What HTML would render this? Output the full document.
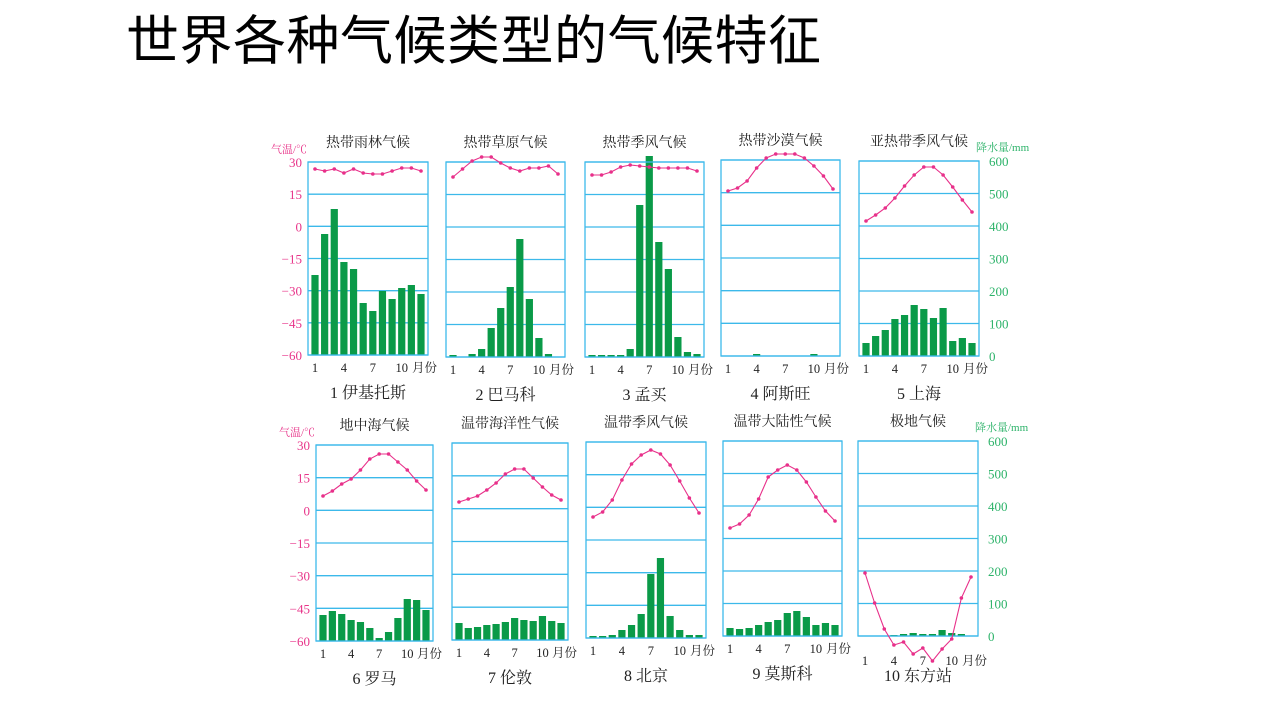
<!DOCTYPE html>
<html><head><meta charset="utf-8">
<style>
html,body{margin:0;padding:0;background:#fff;}
#t{position:absolute;left:126px;top:-1px;font:53px "Liberation Sans","Noto Sans CJK SC",sans-serif;letter-spacing:0.5px;color:#000;white-space:nowrap;}
svg{position:absolute;left:0;top:0;}
</style></head><body>
<div id="t">世界各种气候类型的气候特征</div>
<svg id="s" width="1280" height="720" xmlns="http://www.w3.org/2000/svg" font-family="'Liberation Serif','Noto Serif CJK SC',serif"></svg>
<script>
var P=[
{x0:308,x1:428,y0:162,y1:355,title:"热带雨林气候",cap:"1  伊基托斯",
 t:[169,171,169,173,169,173,174,174,171,168,168,171],
 b:[275,234,209,262,269,303,311,291,299,288,285,294]},
{x0:446,x1:565,y0:162,y1:357,title:"热带草原气候",cap:"2  巴马科",
 t:[177,169,161,157,157,163,168,171,168,168,166,174],
 b:[355,null,354,349,328,308,287,239,299,338,354,null]},
{x0:585,x1:704,y0:162,y1:357,title:"热带季风气候",cap:"3  孟买",
 t:[175,175,172,167,165,166,167,168,168,168,168,171],
 b:[355,355,355,355,349,205,156,242,269,337,352,354]},
{x0:721,x1:840,y0:160,y1:356,title:"热带沙漠气候",cap:"4  阿斯旺",
 t:[191,188,181,168,158,154,154,154,158,166,176,189],
 b:[null,null,null,354,null,null,null,null,null,354,null,null]},
{x0:859,x1:979,y0:161,y1:356,title:"亚热带季风气候",cap:"5  上海",
 t:[221,215,208,198,186,175,167,167,175,187,200,212],
 b:[343,336,330,319,315,305,309,318,308,341,338,343]},
{x0:316,x1:433,y0:445,y1:641,title:"地中海气候",cap:"6  罗马",
 t:[496,491,484,479,470,459,454,454,462,470,481,490],
 b:[615,611,614,620,622,628,638,632,618,599,600,610]},
{x0:452,x1:568,y0:443,y1:640,title:"温带海洋性气候",cap:"7  伦敦",
 t:[502,499,496,490,483,474,469,469,478,487,495,500],
 b:[623,628,627,625,624,622,618,620,621,616,621,623]},
{x0:586,x1:706,y0:442,y1:638,title:"温带季风气候",cap:"8  北京",
 t:[517,512,500,480,464,455,450,454,465,481,498,513],
 b:[636,636,635,630,625,614,574,558,616,630,635,635]},
{x0:723,x1:842,y0:441,y1:636,title:"温带大陆性气候",cap:"9  莫斯科",
 t:[528,524,515,499,477,470,465,470,482,497,511,521],
 b:[628,629,628,625,622,620,613,611,617,625,623,625]},
{x0:858,x1:978,y0:441,y1:636,title:"极地气候",cap:"10  东方站",
 t:[573,603,629,645,642,654,648,661,649,639,598,577],
 b:[null,null,null,635,634,633,634,634,630,633,634,null]}
];
var h='';
P.forEach(function(p,k){
 var W=p.x1-p.x0,H=p.y1-p.y0;
 function cx(i){return p.x0+7+i*(W-14)/11;}
 for(var g=0;g<=6;g++){var y=p.y0+g*H/6;h+='<line x1="'+p.x0+'" x2="'+p.x1+'" y1="'+y+'" y2="'+y+'" stroke="#3cb9ea" stroke-width="1.3"/>';}
 p.b.forEach(function(v,i){if(v==null)return;var bt=Math.max(v,p.y0-6);h+='<rect x="'+(cx(i)-3.6)+'" y="'+bt+'" width="7.2" height="'+(p.y1-bt)+'" fill="#0a9a48"/>';});
 h+='<rect x="'+p.x0+'" y="'+p.y0+'" width="'+W+'" height="'+H+'" fill="none" stroke="#3cb9ea" stroke-width="1.3"/>';
 var pts=p.t.map(function(v,i){return cx(i).toFixed(1)+','+v;}).join(' ');
 h+='<polyline points="'+pts+'" fill="none" stroke="#e8308a" stroke-width="1.1"/>';
 p.t.forEach(function(v,i){h+='<circle cx="'+cx(i)+'" cy="'+v+'" r="1.8" fill="#e8308a"/>';});
 var mx=(p.x0+p.x1)/2;
 h+='<text x="'+mx+'" y="'+(p.y0-15)+'" font-size="14" text-anchor="middle" fill="#222">'+p.title+'</text>';
 var ly=(k==9)?665:p.y1+17;
 [0,3,6,9].forEach(function(i){h+='<text x="'+cx(i)+'" y="'+ly+'" font-size="12.5" text-anchor="middle" fill="#222">'+(i+1)+'</text>';});
 h+='<text x="'+(p.x1-16)+'" y="'+ly+'" font-size="12.5" fill="#222">月份</text>';
 h+='<text x="'+mx+'" y="'+(k==9?681:p.y1+43)+'" font-size="16" text-anchor="middle" fill="#222">'+p.cap+'</text>';
 if(k==0||k==5){
  var tv=['30','15','0','-15','-30','-45','-60'];
  for(var g=0;g<=6;g++){h+='<text x="'+(p.x0-6)+'" y="'+(p.y0+g*H/6+5)+'" font-size="13" text-anchor="end" fill="#e8358a">'+tv[g].replace('-','−')+'</text>';}
  h+='<text x="'+(p.x0-37)+'" y="'+(p.y0-9)+'" font-size="11" fill="#e8358a">气温/℃</text>';
 }
 if(k==4||k==9){
  for(var g=0;g<=6;g++){h+='<text x="'+(p.x1+10)+'" y="'+(p.y0+g*H/6+5)+'" font-size="13" fill="#2db36a">'+((6-g)*100)+'</text>';}
  h+='<text x="'+(p.x1-3)+'" y="'+(p.y0-10)+'" font-size="11" fill="#2db36a">降水量/mm</text>';
 }
});
document.getElementById('s').innerHTML=h;
</script>
</body></html>
